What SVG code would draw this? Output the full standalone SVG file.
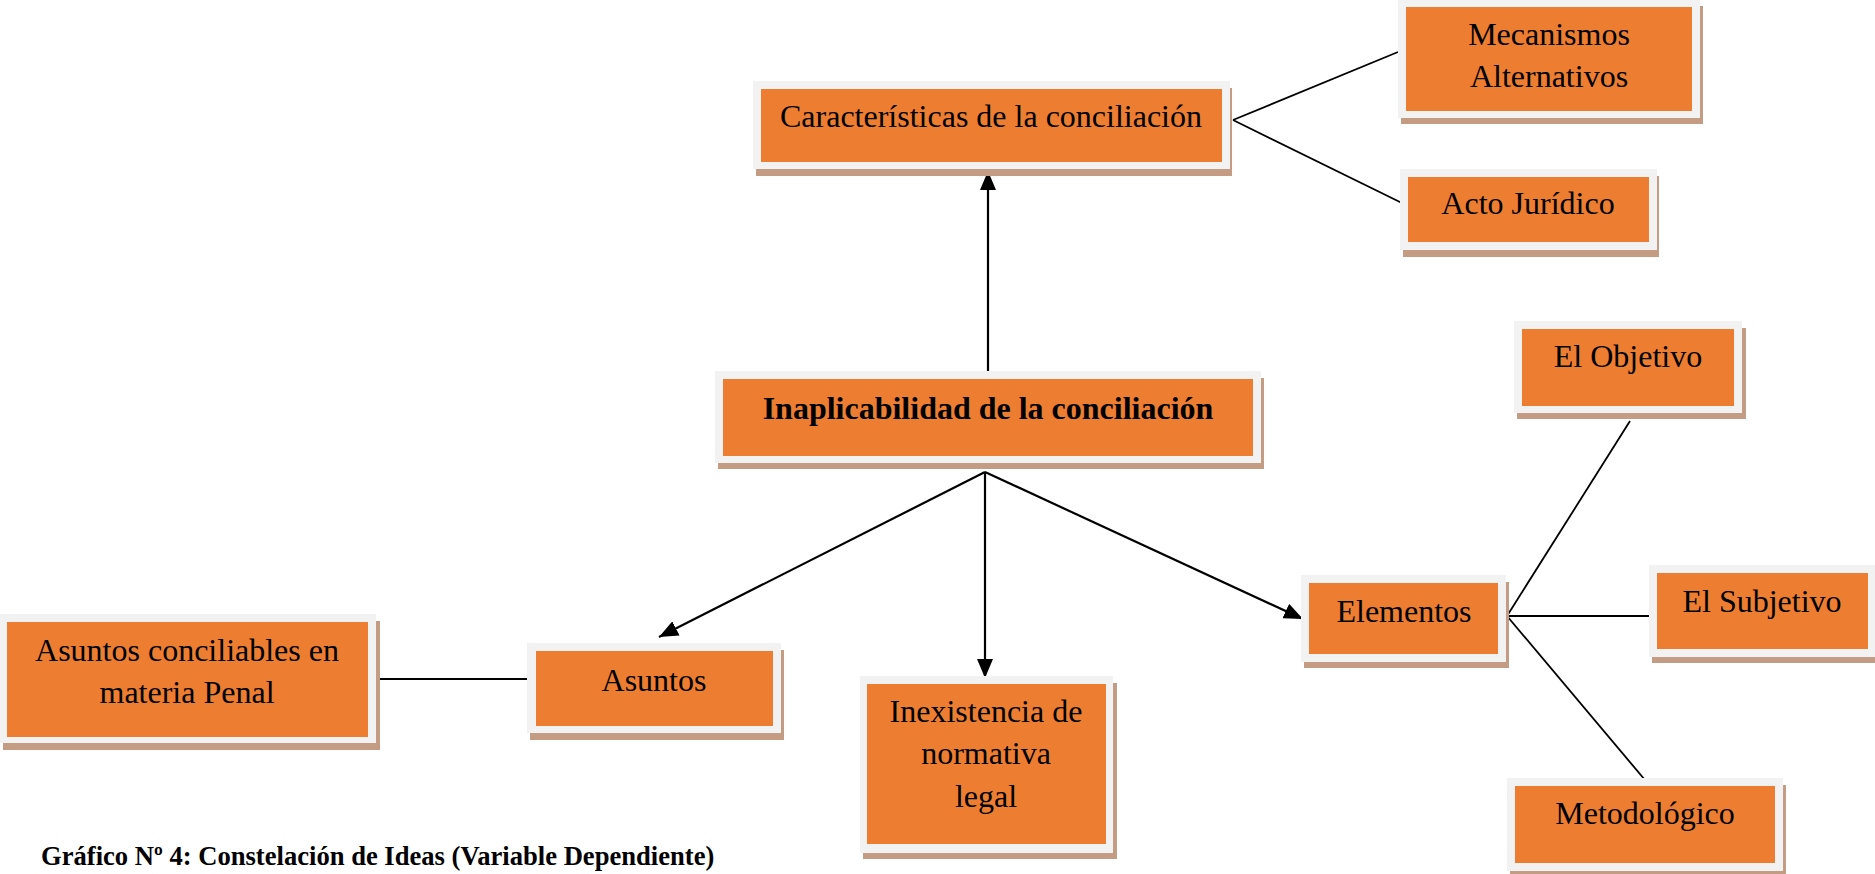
<svg xmlns="http://www.w3.org/2000/svg" width="1875" height="874" viewBox="0 0 1875 874">
<style>
.sh{fill:#C49C84}
.fr{fill:#F2F2F2}
.or{fill:#ED7D31}
.t{font-family:"Liberation Serif","Times New Roman",serif;font-size:32px;fill:#000;text-anchor:middle}
.b{font-weight:bold}
.ln{stroke:#000;stroke-width:1.8;fill:none}
.ar{stroke:#000;stroke-width:2.2;fill:none;marker-end:url(#ah)}
.cap{font-family:"Liberation Serif","Times New Roman",serif;font-size:26.6px;font-weight:bold;fill:#000}
</style>
<defs>
<marker id="ah" markerWidth="20" markerHeight="16" refX="19" refY="8" orient="auto" markerUnits="userSpaceOnUse">
<path d="M0,0 L19,8 L0,16 z" fill="#000"/>
</marker>
</defs>
<rect width="1875" height="874" fill="#fff"/>

<g id="connectors">
<line class="ar" x1="988" y1="379" x2="988" y2="171"/>
<line class="ar" x1="985" y1="472" x2="659" y2="637"/>
<line class="ar" x1="985" y1="472" x2="985" y2="678"/>
<line class="ar" x1="985" y1="472" x2="1303" y2="619"/>
<line class="ln" x1="1233" y1="120" x2="1398" y2="52"/>
<line class="ln" x1="1233" y1="120" x2="1404" y2="204"/>
<line class="ln" x1="1507" y1="616" x2="1630" y2="421"/>
<line class="ln" x1="1507" y1="616" x2="1652" y2="616"/>
<line class="ln" x1="1507" y1="616" x2="1645" y2="780"/>
<line class="ln" x1="377" y1="679" x2="531" y2="679"/>
</g>

<g id="n-caracteristicas">
<rect class="sh" x="756" y="88" width="476" height="88"/>
<rect class="fr" x="753" y="81" width="477" height="88"/>
<rect class="or" x="761" y="89" width="461" height="73"/>
<text class="t" x="991" y="127">Características de la conciliación</text>
</g>

<g id="n-mecanismos">
<rect class="sh" x="1401" y="6" width="302" height="118"/>
<rect class="fr" x="1398" y="-1" width="302" height="119"/>
<rect class="or" x="1406" y="7" width="286" height="104"/>
<text class="t" x="1549" y="45">Mecanismos</text>
<text class="t" x="1549" y="87">Alternativos</text>
</g>

<g id="n-acto">
<rect class="sh" x="1403" y="176" width="256" height="81"/>
<rect class="fr" x="1400" y="169" width="257" height="81"/>
<rect class="or" x="1408" y="177" width="241" height="65"/>
<text class="t" x="1528" y="214">Acto Jurídico</text>
</g>

<g id="n-inaplicabilidad">
<rect class="sh" x="718" y="378" width="546" height="91"/>
<rect class="fr" x="715" y="371" width="546" height="92"/>
<rect class="or" x="723" y="379" width="530" height="77"/>
<text class="t b" x="988" y="419">Inaplicabilidad de la conciliación</text>
</g>

<g id="n-objetivo">
<rect class="sh" x="1517" y="328" width="229" height="91"/>
<rect class="fr" x="1514" y="321" width="228" height="92"/>
<rect class="or" x="1522" y="329" width="212" height="77"/>
<text class="t" x="1628" y="367">El Objetivo</text>
</g>

<g id="n-elementos">
<rect class="sh" x="1304" y="582" width="205" height="86"/>
<rect class="fr" x="1301" y="575" width="205" height="87"/>
<rect class="or" x="1309" y="583" width="189" height="71"/>
<text class="t" x="1404" y="622">Elementos</text>
</g>

<g id="n-subjetivo">
<rect class="sh" x="1652" y="572" width="226" height="91"/>
<rect class="fr" x="1649" y="565" width="228" height="92"/>
<rect class="or" x="1657" y="573" width="211" height="76"/>
<text class="t" x="1762" y="612">El Subjetivo</text>
</g>

<g id="n-metodologico">
<rect class="sh" x="1510" y="785" width="276" height="92"/>
<rect class="fr" x="1507" y="778" width="276" height="93"/>
<rect class="or" x="1515" y="786" width="260" height="77"/>
<text class="t" x="1645" y="824">Metodológico</text>
</g>

<g id="n-inexistencia">
<rect class="sh" x="863" y="683" width="254" height="176"/>
<rect class="fr" x="860" y="676" width="253" height="177"/>
<rect class="or" x="867" y="684" width="239" height="160"/>
<text class="t" x="986" y="722">Inexistencia de</text>
<text class="t" x="986" y="764">normativa</text>
<text class="t" x="986" y="807">legal</text>
</g>

<g id="n-asuntos">
<rect class="sh" x="530" y="650" width="254" height="90"/>
<rect class="fr" x="527" y="643" width="254" height="90"/>
<rect class="or" x="536" y="651" width="237" height="75"/>
<text class="t" x="654" y="691">Asuntos</text>
</g>

<g id="n-asuntos-conciliables">
<rect class="sh" x="3" y="621" width="377" height="129"/>
<rect class="fr" x="-1" y="614" width="377" height="129"/>
<rect class="or" x="7" y="622" width="361" height="115"/>
<text class="t" x="187" y="661">Asuntos conciliables en</text>
<text class="t" x="187" y="703">materia Penal</text>
</g>

<g id="caption">
<text class="cap" x="41" y="865">Gráfico Nº 4: Constelación de Ideas (Variable Dependiente)</text>
</g>
</svg>
